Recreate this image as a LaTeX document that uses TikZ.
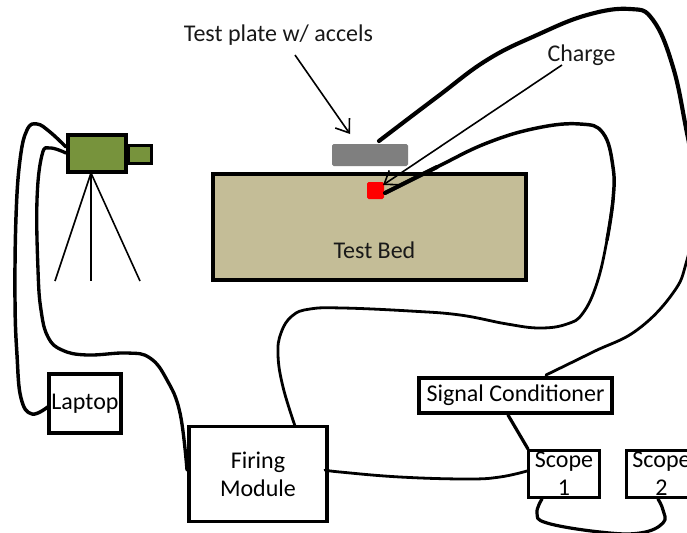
\documentclass[tikz,border=0pt]{standalone}
\usepackage{fontspec}
\setmainfont{Carlito}
\usetikzlibrary{arrows.meta}
\definecolor{bedc}{HTML}{C4BD97}
\definecolor{platec}{HTML}{7F7F7F}
\definecolor{camc}{HTML}{77933C}
\tikzset{
  box/.style={draw=black,fill=white,line width=2.5pt,rectangle,inner sep=0pt,outer sep=0pt,align=center,font=\fontsize{18pt}{21pt}\selectfont},
  lbl/.style={inner sep=0pt,outer sep=0pt,align=center,font=\fontsize{18pt}{21pt}\selectfont,text=black!90},
  wire/.style={draw=black,line width=2.1pt,line cap=round,line join=round},
  wirethick/.style={draw=black,line width=3.1pt,line cap=round,line join=round},
  leg/.style={draw=black,line width=1.2pt},
  pointer/.style={draw=black,line width=1.2pt,-{Straight Barb[length=9pt,width=13pt,line width=1.2pt]}},
}
\begin{document}
\begin{tikzpicture}[x=0.75pt,y=-0.75pt]
\useasboundingbox (0,0) rectangle (687,533);
\fill[white] (0,0) rectangle (687,533);
\clip (0,0) rectangle (687,533);
% bed and devices
\node[box,fill=bedc,line width=3pt,minimum width=313*0.75pt,minimum height=106*0.75pt] (bed) at (369.5,227) {};
\node[lbl] (bedlabel) at (374.5,250) {Test Bed};
\node[rectangle,fill=platec,rounded corners=1.2pt,inner sep=0pt,outer sep=0pt,minimum width=57pt,minimum height=16.5pt] (plate) at (370,155) {};
\node[rectangle,fill=red,rounded corners=1.2pt,inner sep=0pt,outer sep=0pt,minimum width=12.75pt,minimum height=12.75pt] (charge) at (375.5,190.5) {};
\node[box,fill=camc,minimum width=23.5*0.75pt,minimum height=18*0.75pt] (lens) at (139.75,154.5) {};
\node[box,fill=camc,line width=3pt,minimum width=58*0.75pt,minimum height=37*0.75pt] (cam) at (97,153.5) {};
\node[box,minimum width=72*0.75pt,minimum height=59*0.75pt] (laptop) at (85,403.5) {\raisebox{-2.5pt}{Laptop}};
\node[box,line width=2.8pt,minimum width=138*0.75pt,minimum height=95*0.75pt] (firing) at (258,474) {Firing\\Module};
\node[box,line width=2.8pt,minimum width=193.5*0.75pt,minimum height=35.5*0.75pt] (signal) at (515.5,395.5) {\raisebox{-0.7pt}{Signal Conditioner}};
\node[box,minimum width=71*0.75pt,minimum height=47*0.75pt] (scopeA) at (564,474) {Scope\\1};
\node[box,minimum width=70*0.75pt,minimum height=47*0.75pt] (scopeB) at (661.5,474) {Scope\\2};
\node[lbl] (platelabel) at (278.5,35) {Test plate w/ accels};
\node[lbl] (chargelabel) at (581.5,55) {Charge};
% tripod
\coordinate (apex) at (91,173);
\coordinate (legA) at (55,281);
\coordinate (legB) at (91,281);
\coordinate (legC) at (140,281);
\draw[leg] (apex) -- (legA);
\draw[leg] (apex) -- (legB);
\draw[leg] (apex) -- (legC);
% pointers
\coordinate (pA) at (295,55);
\coordinate (pB) at (350,134);
\coordinate (pC) at (562,65);
\coordinate (pD) at (383,185);
\draw[pointer] (pA) -- (pB);
\draw[pointer] (pC) -- (pD);
% wire ends
\coordinate (camA) at (66,147);
\coordinate (camB) at (66,153);
\coordinate (lapW) at (49,406);
\coordinate (firW) at (187,470);
\coordinate (firN) at (295,426);
\coordinate (firE) at (325,470);
\coordinate (plateW) at (379,141);
\coordinate (chargeW) at (385,193);
\coordinate (sigN) at (546,375);
\coordinate (sigS) at (508,415);
\coordinate (scAW) at (527,471);
\coordinate (scAN) at (528,449);
\coordinate (scAS) at (542,499);
\coordinate (scBS) at (658,499);
% camera to laptop
\draw[wire,line width=2.6pt] plot[smooth,tension=0.7] coordinates {(camA) (50,132) (37,124) (27,130) (20,160) (16,217) (15,300) (17,355) (21,398) (32,414) (lapW)};
% camera to firing module
\draw[wire,line width=2.5pt] plot[smooth,tension=0.7] coordinates {(camB) (50,148) (42,155) (37,200) (38,270) (41,310) (48,337) (62,350) (87,355) (127,353) (150,358) (167,380) (180,413) (firW)};
% charge to firing module
\draw[wire,line width=2.6pt] plot[smooth,tension=0.7] coordinates {(chargeW) (437,167) (487,143) (537,128) (580,124) (603,133) (613,167) (613,200) (607,240)};
\draw[wire] plot[smooth,tension=0.7] coordinates {(613,200) (607,240) (597,283) (583,313) (567,324) (540,328) (507,324) (460,315) (410,311) (343,308) (310,309) (292,316) (281,333) (278,355) (283,387) (firN)};
\draw[wirethick] plot[smooth,tension=0.7] coordinates {(chargeW) (437,167)};
% plate to signal conditioner
\draw[wirethick] plot[smooth,tension=0.7] coordinates {(plateW) (437,97) (487,60) (537,35) (587,15) (630,9) (653,20) (673,67) (687,133) (700,200)};
\draw[wire] plot[smooth,tension=0.7] coordinates {(700,200) (687,260) (673,293) (637,330) (593,352) (sigN)};
% others
\draw[wire,line width=2.4pt] (sigS) -- (scAN);
\draw[wire] plot[smooth,tension=0.7] coordinates {(firE) (340,472) (400,477) (467,479) (500,477) (scAW)};
\draw[wire,line width=2.4pt] plot[smooth,tension=0.7] coordinates {(scAS) (537,513) (547,523) (600,532) (640,533) (663,523) (663,510) (scBS)};
\end{tikzpicture}
\end{document}
